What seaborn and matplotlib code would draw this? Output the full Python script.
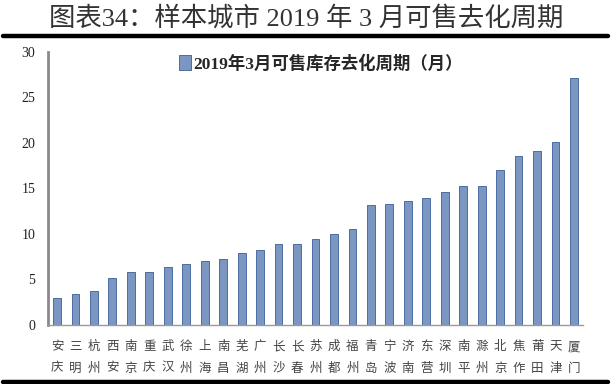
import numpy as np
import pandas as pd
import matplotlib
matplotlib.use("Agg")
import matplotlib.pyplot as plt
from matplotlib.lines import Line2D
from matplotlib.ticker import FixedLocator
import seaborn as sns

# ── data ──
cities = ["安庆", "三明", "杭州", "西安", "南京", "重庆", "武汉", "徐州", "上海", "南昌",
          "芜湖", "广州", "长沙", "长春", "苏州", "成都", "福州", "青岛", "宁波", "济南",
          "东营", "深圳", "南平", "滁州", "北京", "焦作", "莆田", "天津", "厦门"]
months = [2.9, 3.4, 3.7, 5.2, 5.8, 5.8, 6.4, 6.7, 7.0, 7.2,
          7.9, 8.2, 8.9, 8.9, 9.4, 10.0, 10.5, 13.2, 13.3, 13.6,
          13.9, 14.6, 15.3, 15.3, 17.0, 18.6, 19.1, 20.1, 27.1]
series_name = "2019年3月可售库存去化周期（月）"
title = "图表34：样本城市 2019 年 3 月可售去化周期"
y_ticks = [0, 5, 10, 15, 20, 25, 30]

df = pd.DataFrame({"city": cities, "value": months})

sns.set_style("white")
plt.rcParams["font.family"] = ["Liberation Serif", "Noto Sans CJK SC", "DejaVu Sans"]

fig = plt.figure(figsize=(6.12, 3.84), dpi=100)
ax = fig.add_axes([0.078, 0.154, 0.875, 0.711])

sns.barplot(data=df, x="city", y="value", ax=ax, color="#6F94CC",
            edgecolor="#4A6DA3", linewidth=0.7, width=0.42, label=series_name)

ax.set_ylim(0, 30)
ax.set_xlim(-0.5, len(cities) - 0.5)
ax.set_yticks(y_ticks)
ax.set_yticklabels([str(t) for t in y_ticks], fontsize=10, color="#222222")
ax.set_xlabel("")
ax.set_ylabel("")

# stacked two-char city labels
ax.set_xticks(range(len(cities)))
ax.set_xticklabels(["\n".join(c) for c in cities], fontsize=9, linespacing=1.85,
                   color="#444444", family=["Noto Sans CJK SC", "DejaVu Sans"])
ax.tick_params(axis="x", which="major", length=0, pad=11)
ax.xaxis.set_minor_locator(FixedLocator(np.arange(-0.5, len(cities), 1.0)))
ax.tick_params(axis="x", which="minor", length=3, width=0.8, color="#888888", direction="out")
ax.tick_params(axis="y", length=3, width=0.8, color="#888888", direction="out", pad=6)

for s in ["top", "right"]:
    ax.spines[s].set_visible(False)
ax.spines["left"].set_color("#8a8a8a")
ax.spines["left"].set_linewidth(2.0)
ax.spines["bottom"].set_color("#9a9a9a")
ax.spines["bottom"].set_linewidth(1.0)

ax.legend(loc="upper center", bbox_to_anchor=(0.51, 1.045), frameon=False,
          handlelength=0.7, handleheight=0.9, handletextpad=0.15,
          prop={"family": ["Liberation Serif", "Noto Sans CJK SC"],
                "weight": "bold", "size": 12.5})

fig.text(0.5, 0.953, title, ha="center", va="center", fontsize=19,
         color="#333333", family=["Liberation Serif", "Noto Sans CJK SC"])
fig.add_artist(Line2D([0.005, 0.993], [0.906, 0.906], color="black", linewidth=3.2))
fig.add_artist(Line2D([0.005, 0.993], [0.006, 0.006], color="black", linewidth=3.2))

fig.savefig("out.png", dpi=100)
